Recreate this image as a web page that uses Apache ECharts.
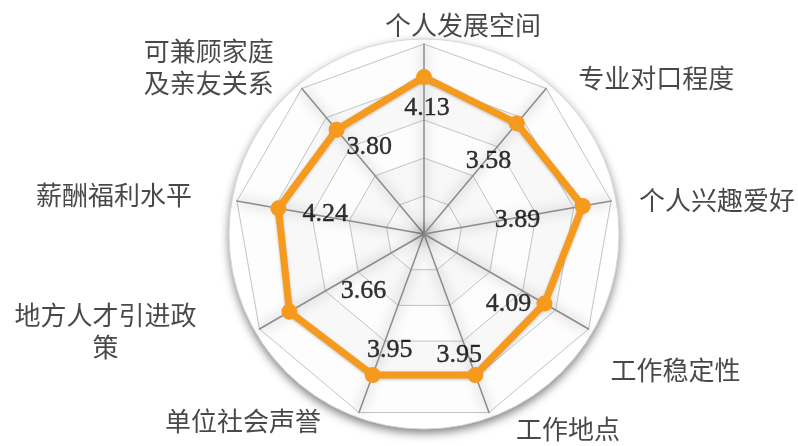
<!DOCTYPE html>
<html>
<head>
<meta charset="utf-8">
<script src="https://cdn.jsdelivr.net/npm/echarts@6/dist/echarts.min.js"></script>
<style>
  html, body { margin: 0; padding: 0; background: #ffffff; }
  #chart { width: 798px; height: 446px; }
</style>
</head>
<body>
<div id="chart"></div>
<script>
// ---- data ----
const categories = ['个人发展空间', '专业对口程度', '个人兴趣爱好', '工作稳定性', '工作地点',
                    '单位社会声誉', '地方人才引进政策', '薪酬福利水平', '可兼顾家庭及亲友关系'];
const categoryLabels = ['个人发展空间', '专业对口程度', '个人兴趣爱好', '工作稳定性', '工作地点',
                        '单位社会声誉', '地方人才引进政\n策', '薪酬福利水平', '可兼顾家庭\n及亲友关系'];
const scores = [4.13, 3.58, 3.89, 4.09, 3.95, 3.95, 3.66, 4.24, 3.80];
const axisMin = 0;
const axisMax = 5;
const splitCount = 5;

// ---- label placement styles (pixel offsets from each vertex / point) ----
const valueLabelOffsets = [[3, 31], [-23, 31], [-52, 12], [-50, -8], [-16, -20], [17, -25], [60, -12], [60, 8], [38, 24]];
const nameLabelOffsets = [[39, -19], [110, -10], [106, -1], [87, 41], [79, 17], [-116, 9], [-154, 2], [-123, -6], [-93, -21]];

const CENTER = [424, 234];
const RADIUS = 190;
const ORANGE = '#F59A1C';

const chart = echarts.init(document.getElementById('chart'), null, { renderer: 'canvas' });

const indicators = categories.map(c => ({ name: c, min: axisMin, max: axisMax }));

const option = {
  backgroundColor: '#ffffff',
  animation: false,
  radar: [
    {
      // white disc behind the web
      z: 0,
      center: CENTER,
      radius: RADIUS + 5,
      shape: 'circle',
      startAngle: 90,
      splitNumber: 1,
      indicator: indicators,
      axisName: { show: false },
      axisLine: { show: false },
      splitLine: { lineStyle: { color: '#d9d9d9', width: 1 } },
      splitArea: {
        show: true,
        areaStyle: {
          color: ['#ffffff'],
          shadowBlur: 10,
          shadowColor: 'rgba(0,0,0,0.5)',
          shadowOffsetY: 4
        }
      }
    },
    {
      z: 1,
      center: CENTER,
      radius: RADIUS,
      shape: 'polygon',
      startAngle: 90,
      splitNumber: splitCount,
      indicator: indicators,
      axisName: { show: false },
      axisLine: {
        lineStyle: {
          color: '#8c8c8c',
          width: 1.5,
          shadowBlur: 12,
          shadowColor: 'rgba(0,0,0,0.5)'
        }
      },
      splitLine: { lineStyle: { color: '#c4c4c4', width: 1 } },
      splitArea: { show: true, areaStyle: { color: ['#fdfdfd', '#f8f8f8'] } }
    }
  ],
  polar: { center: CENTER, radius: RADIUS },
  angleAxis: {
    type: 'category',
    data: categories,
    boundaryGap: false,
    startAngle: 90,
    clockwise: true,
    axisLine: { show: false },
    axisTick: { show: false },
    axisLabel: { show: false },
    splitLine: { show: false }
  },
  radiusAxis: {
    min: axisMin,
    max: axisMax,
    axisLine: { show: false },
    axisTick: { show: false },
    axisLabel: { show: false },
    splitLine: { show: false }
  },
  series: [
    {
      type: 'radar',
      radarIndex: 1,
      z: 5,
      symbol: 'circle',
      symbolSize: 16,
      lineStyle: { color: ORANGE, width: 7, shadowBlur: 3, shadowColor: 'rgba(0,0,0,0.25)', shadowOffsetY: 1 },
      itemStyle: { color: ORANGE },
      data: [{ value: scores, name: '得分' }]
    },
    {
      type: 'scatter',
      coordinateSystem: 'polar',
      z: 10,
      silent: true,
      symbolSize: 1,
      itemStyle: { color: 'transparent' },
      label: {
        show: true,
        position: 'inside',
        fontFamily: 'Liberation Serif',
        fontSize: 26,
        color: '#000000',
        textBorderColor: '#000000',
        textBorderWidth: 0.4,
        formatter: p => p.value[0].toFixed(2)
      },
      data: scores.map((v, i) => ({ value: [v, categories[i]], label: { offset: valueLabelOffsets[i] } }))
    },
    {
      type: 'scatter',
      coordinateSystem: 'polar',
      z: 10,
      silent: true,
      symbolSize: 1,
      itemStyle: { color: 'transparent' },
      label: {
        show: true,
        position: 'inside',
        fontFamily: 'Noto Sans CJK SC',
        fontSize: 26,
        lineHeight: 32,
        align: 'center',
        color: '#1a1a1a',
        formatter: p => categoryLabels[p.dataIndex]
      },
      data: categories.map((c, i) => ({ value: [axisMax, c], label: { offset: nameLabelOffsets[i] } }))
    }
  ]
};

chart.setOption(option);
</script>
</body>
</html>
